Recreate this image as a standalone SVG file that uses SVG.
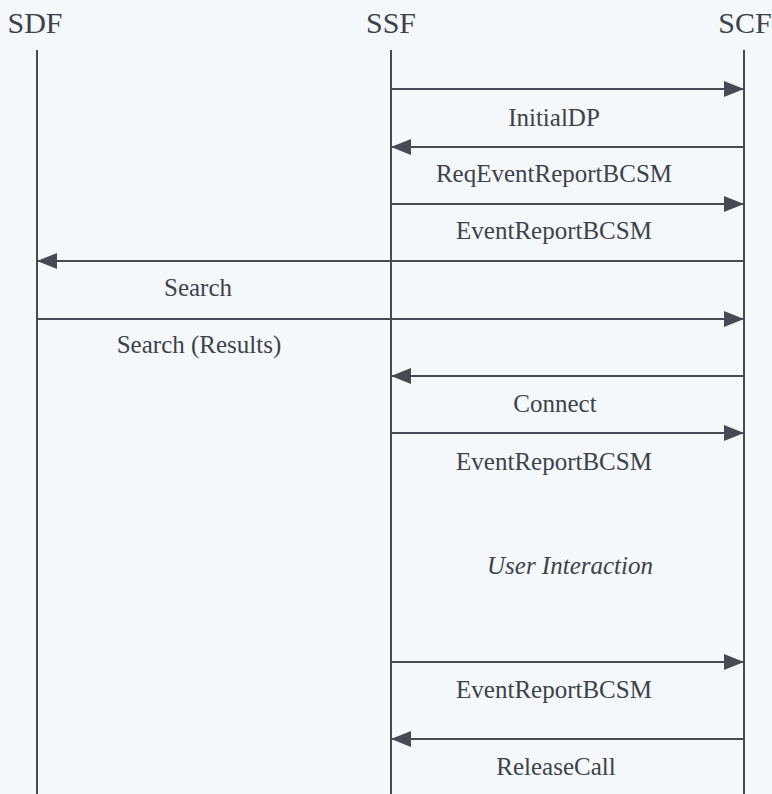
<svg xmlns="http://www.w3.org/2000/svg" width="772" height="794" viewBox="0 0 772 794">
  <defs>
    <marker id="head" markerUnits="userSpaceOnUse" markerWidth="22" markerHeight="18" refX="20" refY="8" orient="auto">
      <path d="M0,0 L20,8 L0,16 Z" fill="#454a53"/>
    </marker>
    <style>
      .life { stroke: #454a53; stroke-width: 2; fill: none; }
      .msg { stroke: #454a53; stroke-width: 2; fill: none; marker-end: url(#head); }
      .hdr { font-size: 30px; fill: #3d424b; text-anchor: middle; }
      .lbl { font-size: 25px; fill: #3d424b; text-anchor: middle; }
      .note { font-style: italic; }
    </style>
  </defs>
  <rect width="772" height="794" fill="#f4f8fb"/>

  <g font-family="'Liberation Serif', 'DejaVu Serif', 'Times New Roman', serif">
    <!-- participants with their lifelines -->
    <g id="sdf">
      <text class="hdr" x="35" y="33">SDF</text>
      <line class="life" x1="37" y1="50" x2="37" y2="794"/>
    </g>
    <g id="ssf">
      <text class="hdr" x="391" y="33">SSF</text>
      <line class="life" x1="391" y1="50" x2="391" y2="794"/>
    </g>
    <g id="scf">
      <text class="hdr" x="745" y="33">SCF</text>
      <line class="life" x1="744" y1="50" x2="744" y2="794"/>
    </g>

    <!-- messages -->
    <g id="connectors">
      <line class="msg" x1="391" y1="89" x2="744" y2="89"/>
      <line class="msg" x1="744" y1="147" x2="391" y2="147"/>
      <line class="msg" x1="391" y1="204" x2="744" y2="204"/>
      <line class="msg" x1="744" y1="261" x2="37" y2="261"/>
      <line class="msg" x1="37" y1="319" x2="744" y2="319"/>
      <line class="msg" x1="744" y1="376" x2="391" y2="376"/>
      <line class="msg" x1="391" y1="433" x2="744" y2="433"/>
      <line class="msg" x1="391" y1="662" x2="744" y2="662"/>
      <line class="msg" x1="744" y1="739" x2="391" y2="739"/>
    </g>

    <!-- message labels -->
    <g id="labels">
      <text class="lbl" x="554" y="126">InitialDP</text>
      <text class="lbl" x="554" y="182">ReqEventReportBCSM</text>
      <text class="lbl" x="554" y="239">EventReportBCSM</text>
      <text class="lbl" x="198" y="296">Search</text>
      <text class="lbl" x="199" y="353">Search (Results)</text>
      <text class="lbl" x="555" y="412">Connect</text>
      <text class="lbl" x="554" y="470">EventReportBCSM</text>
      <text class="lbl note" x="570" y="574">User Interaction</text>
      <text class="lbl" x="554" y="698">EventReportBCSM</text>
      <text class="lbl" x="556" y="775">ReleaseCall</text>
    </g>
  </g>
</svg>
